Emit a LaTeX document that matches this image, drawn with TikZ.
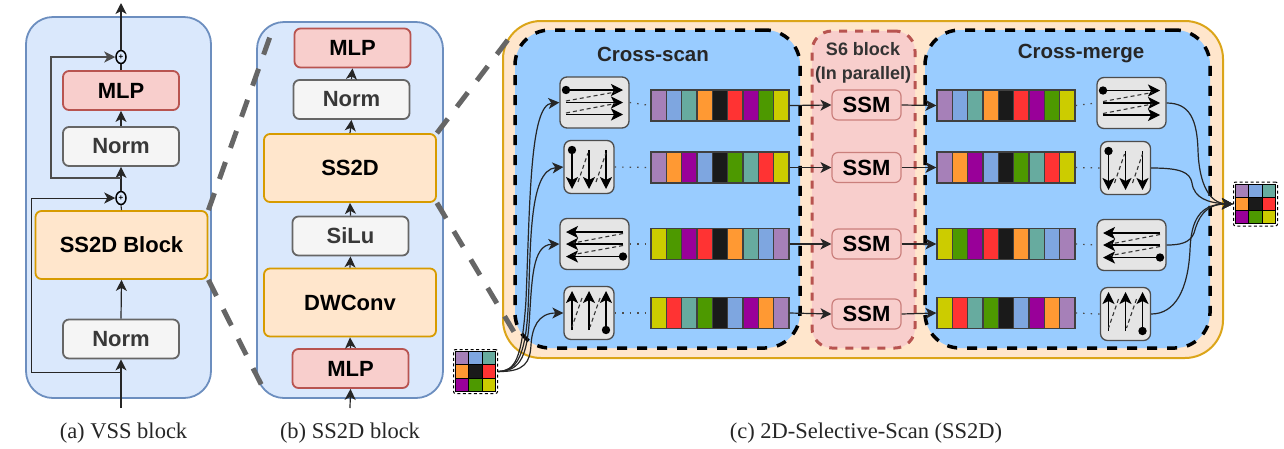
\documentclass[tikz,border=0pt]{standalone}
\usepackage{fontspec}
\setmainfont{Liberation Sans}
\newfontfamily\capfont{Liberation Serif}
\usetikzlibrary{arrows.meta, shapes.geometric}
\definecolor{panelblue}{HTML}{DAE8FC}
\definecolor{paneledge}{HTML}{6C8EBF}
\definecolor{mlpfill}{HTML}{F8CECC}
\definecolor{mlpedge}{HTML}{B85450}
\definecolor{normfill}{HTML}{F5F5F5}
\definecolor{normedge}{HTML}{666666}
\definecolor{ssfill}{HTML}{FFE6CC}
\definecolor{ssedge}{HTML}{D79B00}
\definecolor{scanblue}{HTML}{99CCFF}
\definecolor{cpurple}{HTML}{A680B8}
\definecolor{cblue}{HTML}{7EA6E0}
\definecolor{cteal}{HTML}{67AB9F}
\definecolor{corange}{HTML}{FF9933}
\definecolor{cblack}{HTML}{1A1A1A}
\definecolor{cred}{HTML}{FF3333}
\definecolor{cmagenta}{HTML}{990099}
\definecolor{cgreen}{HTML}{4D9900}
\definecolor{cyellow}{HTML}{CCCC00}
\tikzset{
  blockbox/.style={rectangle, rounded corners=6pt, line width=1.8pt, inner sep=0pt, font=\fontsize{22}{24}\selectfont\bfseries},
  mlpbox/.style={blockbox, fill=mlpfill, draw=mlpedge, minimum width=116pt, minimum height=39pt},
  normbox/.style={blockbox, fill=normfill, draw=normedge, text=black!78, minimum width=116pt, minimum height=39pt},
  ssbox/.style={blockbox, fill=ssfill, draw=ssedge, minimum width=172pt, minimum height=68pt},
  ssmbox/.style={blockbox, fill=mlpfill, draw=mlpedge!75, line width=1.2pt, minimum width=69pt, minimum height=30pt},
  sumnode/.style={ellipse, draw=black, line width=1.5pt, fill=panelblue, inner sep=0pt, minimum width=10pt, minimum height=13pt, font=\fontsize{8}{8}\selectfont\bfseries},
  iconbox/.style={rectangle, rounded corners=7pt, fill=black!10, draw=black!70, line width=1.3pt, inner sep=0pt},
  wideicon/.style={iconbox, minimum width=69pt, minimum height=51pt},
  tallicon/.style={iconbox, minimum width=50pt, minimum height=53pt},
  stripbox/.style={rectangle, draw=black!75, line width=1.2pt, inner sep=0pt, minimum width=138pt, minimum height=31pt},
  gridbox/.style={rectangle, rounded corners=2pt, fill=white, draw=black, line width=1pt, dash pattern=on 3pt off 2.5pt, inner sep=0pt, minimum width=44pt, minimum height=44pt},
  flow/.style={-{Stealth[length=11pt,width=11pt,inset=3pt]}, line width=1.2pt, draw=black!85},
  curveline/.style={line width=1.1pt, draw=black!85},
  zoomline/.style={line width=5pt, draw=black!60, dash pattern=on 18pt off 15pt},
  scanpanel/.style={rectangle, rounded corners=35pt, fill=scanblue, draw=black, line width=3.5pt, dash pattern=on 10pt off 10pt, inner sep=0pt, minimum width=285pt, minimum height=318pt},
  scanarrow/.style={-{Stealth[length=12pt,width=12pt,inset=3pt]}, line width=1.2pt, black},
  scanback/.style={line width=1.1pt, black!80, dash pattern=on 4pt off 3pt},
  hscan/.pic={
    \draw[scanarrow] (-28.5,-12.5) -- (28.5,-12.5);
    \draw[scanarrow] (-28.5,0) -- (28.5,0);
    \draw[scanarrow] (-28.5,12) -- (28.5,12);
    \draw[scanback] (-28.5,-1.5) -- (21,-10.5);
    \draw[scanback] (-28.5,10.5) -- (21,1);
    \fill[black] (-28.5,-12.5) circle (4.2pt);
  },
  vscan/.pic={
    \draw[scanarrow] (-17,-17) -- (-17,22);
    \draw[scanarrow] (0,-17) -- (0,22);
    \draw[scanarrow] (17,-17) -- (17,22);
    \draw[scanback] (-11,15) -- (-1,-14);
    \draw[scanback] (7,15) -- (17,-14);
    \fill[black] (-17,-17) circle (4.2pt);
  },
}
% a strip of nine coloured cells, name / centre x / centre y / colours
\newcommand{\colorstrip}[4]{
  \foreach \c [count=\i from 0] in {#4} {
    \draw[black!75, line width=1.2pt, fill=\c] ({#2-69+\i*15.33},{#3-15.5}) rectangle +(15.33,31);
  }
  \node[stripbox] (#1) at (#2,#3) {};
}
% a three by three grid of cells, name / centre x / centre y
\newcommand{\colorgrid}[3]{
  \node[gridbox] (#1) at (#2,#3) {};
  \foreach \c [count=\i from 0] in {cpurple,cblue,cteal,corange,cblack,cred,cmagenta,cgreen,cyellow} {
    \pgfmathsetmacro{\gx}{#2-20+13.33*mod(\i,3)}
    \pgfmathsetmacro{\gy}{#3-20+13.33*int(\i/3)}
    \draw[black, line width=1pt, fill=\c] (\gx,\gy) rectangle +(13.33,13.33);
  }
}
\begin{document}
\begin{tikzpicture}[x=1pt, y=-1pt]
  \useasboundingbox (0,0) rectangle (1284,448);

  % Draw the background panels
  \node[rectangle, rounded corners=27pt, fill=panelblue, draw=paneledge, line width=1.8pt, inner sep=0pt, minimum width=185pt, minimum height=381pt] (panela) at (118.5,207.5) {};
  \node[rectangle, rounded corners=27pt, fill=panelblue, draw=paneledge, line width=1.8pt, inner sep=0pt, minimum width=186pt, minimum height=376pt] (panelb) at (350,210) {};
  \node[rectangle, rounded corners=38pt, fill=ssfill, draw=ssedge!90, line width=2pt, inner sep=0pt, minimum width=720pt, minimum height=337pt] (panelc) at (863,189.5) {};
  \node[scanpanel] (crossscan) at (657.5,189) {};
  \node[scanpanel] (crossmerge) at (1067.5,189) {};
  \node[rectangle, rounded corners=20pt, fill=mlpfill, draw=mlpedge, line width=3pt, dash pattern=on 8pt off 8pt, inner sep=0pt, minimum width=103pt, minimum height=317pt] (sixblock) at (863.5,189.5) {};

  % VSS block
  \node[mlpbox] (mlpa) at (121,90.5) {MLP};
  \node[normbox] (norma) at (121,146.5) {Norm};
  \node[ssbox] (ssa) at (121.5,245) {SS2D Block};
  \node[normbox] (normb) at (121,339) {Norm};
  \node[sumnode] (suma) at (121,57) {+};
  \node[sumnode] (sumb) at (121,198) {+};
  \coordinate (ina) at (121,408);
  \coordinate (outa) at (121,3);
  \coordinate (skipa) at (121,372);
  \coordinate (skipb) at (121,178);
  \coordinate (cornera) at (31,198);
  \coordinate (cornerb) at (51,57);
  \draw[flow] (ina) -- (normb.south);
  \draw[flow] (normb.north) -- (ssa.south);
  \draw[curveline] (ssa.north) -- (sumb.south);
  \draw[flow] (sumb.north) -- (norma.south);
  \draw[flow] (norma.north) -- (mlpa.south);
  \draw[curveline] (mlpa.north) -- (suma.south);
  \draw[flow] (suma.north) -- (outa);
  \draw[flow, line width=1pt] (skipa) -| (cornera) -- (sumb.west);
  \draw[flow, black!70, line width=1.5pt] (skipb) -| (cornerb) -- (suma.west);

  % SS2D block
  \node[mlpbox] (mlpc) at (352.5,48) {MLP};
  \node[normbox] (normc) at (351.5,99.5) {Norm};
  \node[ssbox] (ssb) at (350,168) {SS2D};
  \node[normbox] (silu) at (350.5,236) {SiLu};
  \node[ssbox] (dwconv) at (350,302.5) {DWConv};
  \node[mlpbox] (mlpd) at (350.5,368.5) {MLP};
  \coordinate (inb) at (350,408);
  \draw[flow] (inb) -- (mlpd.south);
  \draw[flow] (mlpd.north) -- (dwconv.south);
  \draw[flow] (dwconv.north) -- (silu.south);
  \draw[flow] (silu.north) -- (ssb.south);
  \draw[flow] (ssb.north) -- (normc.south);
  \draw[flow] (normc.north) -- (mlpc.south);

  % Zoom lines between the panels
  \coordinate (zoomaa) at (272,31);
  \coordinate (zoomab) at (263,388);
  \coordinate (zoomba) at (510,37);
  \coordinate (zoombb) at (517,337);
  \draw[zoomline] (ssa.north east) -- (zoomaa);
  \draw[zoomline] (ssa.south east) -- (zoomab);
  \draw[zoomline] (ssb.north east) -- (zoomba);
  \draw[zoomline] (ssb.south east) -- (zoombb);

  % Titles in panel c
  \node[font=\fontsize{20.5}{22}\selectfont\bfseries, text=black!85] (scantitle) at (653,54) {Cross-scan};
  \node[font=\fontsize{20.5}{22}\selectfont\bfseries, text=black!85] (mergetitle) at (1081,54) {Cross-merge};
  \node[font=\fontsize{18}{24}\selectfont\bfseries, text=black!80, align=center, inner sep=0pt] (sixtitle) at (863,63) {S6 block\\(In parallel)};

  % Scan icons on the left
  \node[wideicon] (scanone) at (594.5,102.5) {};
  \node[tallicon] (scantwo) at (589,167) {};
  \node[wideicon] (scanthree) at (594.5,244) {};
  \node[tallicon] (scanfour) at (589,313) {};
  \pic at (scanone) {hscan};
  \pic at (scantwo) {vscan};
  \pic[rotate=180] at (scanthree) {hscan};
  \pic[rotate=180] at (scanfour) {vscan};

  % Colour strips
  \colorstrip{stripla}{720}{105.5}{cpurple,cblue,cteal,corange,cblack,cred,cmagenta,cgreen,cyellow}
  \colorstrip{striplb}{720}{167.5}{cpurple,corange,cmagenta,cblue,cblack,cgreen,cteal,cred,cyellow}
  \colorstrip{striplc}{720}{244}{cyellow,cgreen,cmagenta,cred,cblack,corange,cteal,cblue,cpurple}
  \colorstrip{stripld}{720}{313}{cyellow,cred,cteal,cgreen,cblack,cblue,cmagenta,corange,cpurple}
  \colorstrip{stripra}{1006}{105.5}{cpurple,cblue,cteal,corange,cblack,cred,cmagenta,cgreen,cyellow}
  \colorstrip{striprb}{1006}{167.5}{cpurple,corange,cmagenta,cblue,cblack,cgreen,cteal,cred,cyellow}
  \colorstrip{striprc}{1006}{244}{cyellow,cgreen,cmagenta,cred,cblack,corange,cteal,cblue,cpurple}
  \colorstrip{striprd}{1006}{313}{cyellow,cred,cteal,cgreen,cblack,cblue,cmagenta,corange,cpurple}

  % SSM nodes
  \node[ssmbox] (ssma) at (866.5,105) {SSM};
  \node[ssmbox] (ssmb) at (866.5,167.5) {SSM};
  \node[ssmbox] (ssmc) at (866.5,244) {SSM};
  \node[ssmbox] (ssmd) at (866.5,314) {SSM};

  % Merge icons on the right
  \node[wideicon] (mergeone) at (1131.5,103) {};
  \node[tallicon] (mergetwo) at (1125.5,168) {};
  \node[wideicon] (mergethree) at (1131.5,245) {};
  \node[tallicon] (mergefour) at (1125.5,314) {};
  \pic at (mergeone) {hscan};
  \pic at (mergetwo) {vscan};
  \pic[rotate=180] at (mergethree) {hscan};
  \pic[rotate=180] at (mergefour) {vscan};

  % Input and output grids
  \colorgrid{gridin}{475.5}{371.5}
  \colorgrid{gridout}{1255.5}{204}

  % Dotted links
  \foreach \a/\b in {scanone/stripla, scantwo/striplb, scanthree/striplc, scanfour/stripld, stripra/mergeone, striprb/mergetwo, striprc/mergethree, striprd/mergefour} {
    \draw[line width=1.2pt, black!70, dash pattern=on 1.5pt off 6pt] (\a.east) -- (\b.west);
  }

  % Links through the SSM nodes
  \foreach \a/\b/\c in {stripla/ssma/stripra, striplb/ssmb/striprb, striplc/ssmc/striprc, stripld/ssmd/striprd} {
    \draw[flow] (\a.east) -- (\b.west);
    \draw[flow] (\b.east) -- (\c.west);
  }

  % Curves from the input grid
  \draw[flow] (gridin.east) .. controls (515,371) and (522,360) .. (526,300) .. controls (530,200) and (530,105) .. (scanone.west);
  \draw[flow] (gridin.east) .. controls (515,371) and (525,360) .. (528,310) .. controls (531,250) and (528,170) .. (scantwo.west);
  \draw[flow] (gridin.east) .. controls (518,371) and (526,360) .. (529,325) .. controls (532,280) and (532,245) .. (scanthree.west);
  \draw[flow] (gridin.east) .. controls (525,372) and (530,362) .. (531,345) .. controls (532,328) and (538,313) .. (scanfour.west);

  % Curves to the output grid
  \draw[flow] (mergeone.east) .. controls (1190,103) and (1197,120) .. (1198,150) .. controls (1199,185) and (1210,203) .. (gridout.west);
  \draw[flow] (mergetwo.east) .. controls (1180,168) and (1190,172) .. (1192,183) .. controls (1194,198) and (1208,203) .. (gridout.west);
  \draw[flow] (mergethree.east) .. controls (1180,245) and (1190,243) .. (1194,233) .. controls (1198,218) and (1205,204) .. (gridout.west);
  \draw[flow] (mergefour.east) .. controls (1175,314) and (1188,290) .. (1190,250) .. controls (1191,220) and (1200,204) .. (gridout.west);

  % Captions
  \node[font=\capfont\fontsize{22.5}{24}\selectfont, text=black!85, inner sep=0pt] (capa) at (123.5,433) {(a) VSS block};
  \node[font=\capfont\fontsize{22.5}{24}\selectfont, text=black!85, inner sep=0pt] (capb) at (350,433) {(b) SS2D block};
  \node[font=\capfont\fontsize{22.5}{24}\selectfont, text=black!85, inner sep=0pt] (capc) at (866,433) {(c) 2D-Selective-Scan (SS2D)};
\end{tikzpicture}
\end{document}
